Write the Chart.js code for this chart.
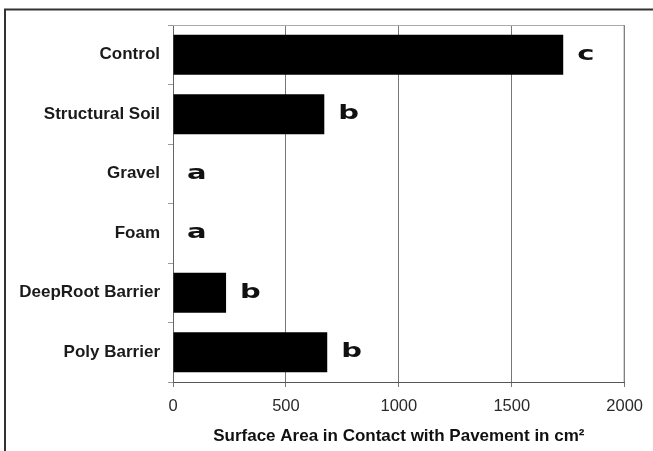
<!DOCTYPE html>
<html>
<head>
<meta charset="utf-8">
<script src="https://cdn.jsdelivr.net/npm/chart.js@4/dist/chart.umd.min.js"></script>
<style>
html,body{margin:0;padding:0;background:#fff;}
canvas{display:block;}
</style>
</head>
<body>
<canvas id="c" width="653" height="451"></canvas>
<script>
const categories = ["Control", "Structural Soil", "Gravel", "Foam", "DeepRoot Barrier", "Poly Barrier"];
const surfaceArea = [1728, 670, 0, 0, 235, 683];
const groupLetters = ["c", "b", "a", "a", "b", "b"];
const xTicks = [0, 500, 1000, 1500, 2000];
const xTitle = "Surface Area in Contact with Pavement in cm\u00B2";

const framePlugin = {
  id: 'frame',
  beforeDraw(chart) {
    const ctx = chart.ctx;
    ctx.save();
    ctx.fillStyle = '#fff';
    ctx.fillRect(0, 0, chart.width, chart.height);
    ctx.strokeStyle = '#333';
    ctx.lineWidth = 2;
    ctx.beginPath();
    ctx.moveTo(5, chart.height + 2);
    ctx.lineTo(5, 9.5);
    ctx.lineTo(chart.width + 2, 9.5);
    ctx.stroke();
    ctx.restore();
  },
  afterDraw(chart) {
    const a = chart.chartArea;
    const ctx = chart.ctx;
    ctx.save();
    ctx.strokeStyle = '#aaa';
    ctx.lineWidth = 1;
    ctx.beginPath();
    ctx.moveTo(a.left, a.top + 0.5);
    ctx.lineTo(a.right, a.top + 0.5);
    ctx.stroke();
    ctx.strokeStyle = '#888';
    ctx.beginPath();
    ctx.moveTo(a.right - 0.5, a.top);
    ctx.lineTo(a.right - 0.5, a.bottom);
    ctx.stroke();
    ctx.restore();
  }
};

const letterPlugin = {
  id: 'letters',
  afterDatasetsDraw(chart) {
    const ctx = chart.ctx;
    const meta = chart.getDatasetMeta(0);
    ctx.save();
    ctx.fillStyle = '#111';
    ctx.font = 'bold 20px "DejaVu Sans", sans-serif';
    ctx.textBaseline = 'middle';
    ctx.textAlign = 'left';
    meta.data.forEach((bar, i) => {
      const x = bar.x + 14;
      const y = bar.y;
      ctx.save();
      ctx.translate(x, y);
      ctx.scale(1.45, 1);
      ctx.fillText(groupLetters[i], 0, 0);
      ctx.restore();
    });
    ctx.restore();
  }
};

new Chart(document.getElementById('c'), {
  type: 'bar',
  data: {
    labels: categories,
    datasets: [{
      data: surfaceArea,
      backgroundColor: '#000',
      borderWidth: 0,
      categoryPercentage: 1.0,
      barPercentage: 0.67
    }]
  },
  options: {
    indexAxis: 'y',
    responsive: false,
    animation: false,
    devicePixelRatio: 1,
    layout: { padding: { top: 25, right: 28, left: 0, bottom: 0 } },
    plugins: { legend: { display: false }, tooltip: { enabled: false } },
    scales: {
      x: {
        min: 0, max: 2000,
        afterBuildTicks(scale) { scale.ticks = xTicks.map(v => ({ value: v })); },
        afterFit(scale) { scale.height = 69; },
        grid: { color: '#777', lineWidth: 1, tickLength: 5, drawTicks: true },
        border: { color: '#555', width: 1 },
        ticks: {
          color: '#2a2a2a',
          padding: 10,
          callback: (v) => String(v),
          font: { family: '"Liberation Sans", Arial, sans-serif', size: 16.5 }
        },
        title: {
          display: true,
          text: xTitle,
          color: '#111',
          padding: { top: 4, bottom: 4 },
          font: { family: '"Liberation Sans", Arial, sans-serif', size: 17, weight: 'bold' }
        }
      },
      y: {
        afterFit(scale) { scale.width = 173; },
        grid: { drawOnChartArea: false, drawTicks: true, tickLength: 5, color: '#999', offset: true },
        border: { color: '#666', width: 1 },
        ticks: {
          color: '#1a1a1a',
          padding: 8,
          font: { family: '"Liberation Sans", Arial, sans-serif', size: 17, weight: 'bold' }
        }
      }
    }
  },
  plugins: [framePlugin, letterPlugin]
});
</script>
</body>
</html>
